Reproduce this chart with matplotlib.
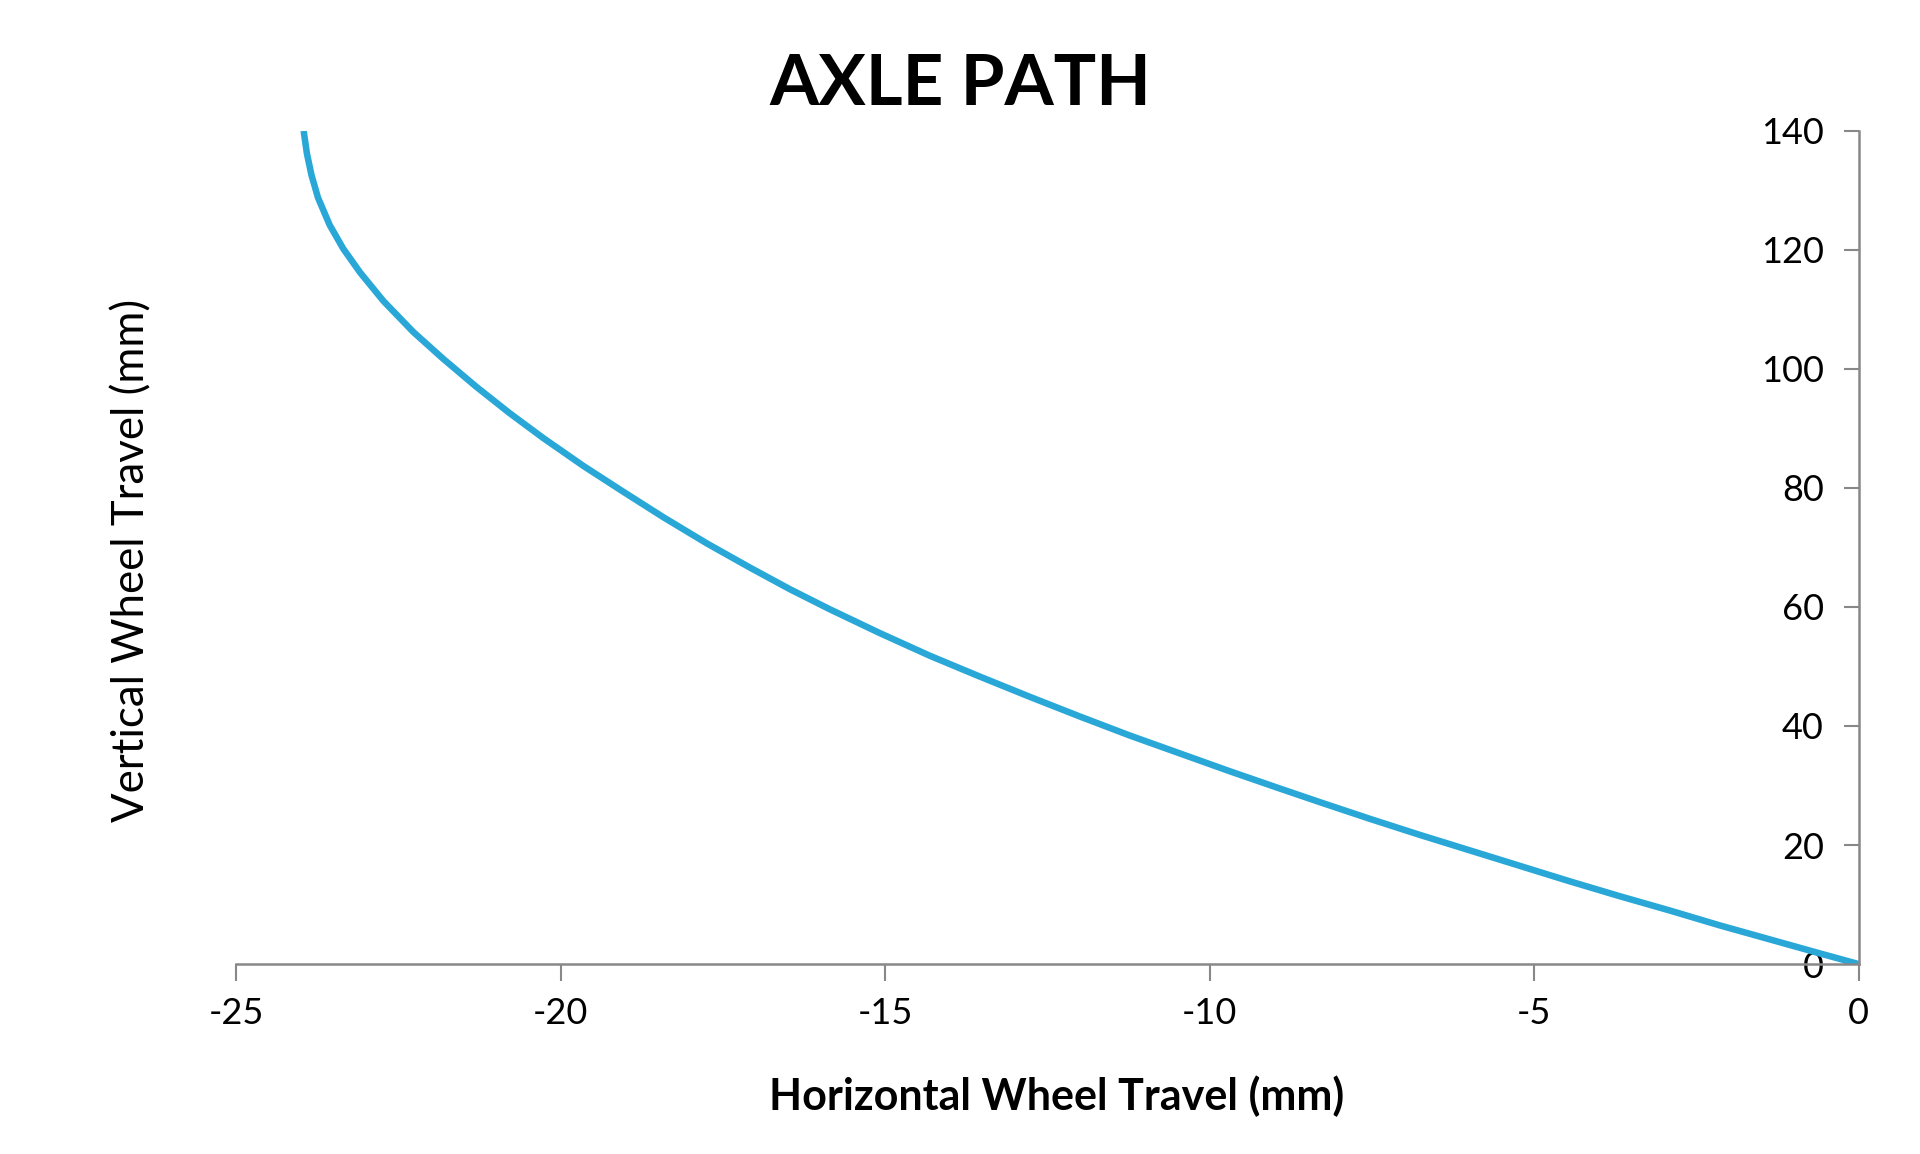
import numpy as np
import matplotlib.pyplot as plt

# axle path (mm)
horiz_travel = [-23.96, -23.91, -23.84, -23.74, -23.56, -23.35, -23.09, -22.73, -22.27, -21.81, -21.30,
                -20.79, -20.27, -19.65, -19.04, -18.42, -17.75, -17.08, -16.47, -15.85, -15.08,
                -14.31, -13.54, -12.77, -12.00, -11.23, -10.46, -9.69, -8.92, -8.30, -7.53,
                -6.76, -5.99, -5.22, -4.45, -3.68, -2.91, -2.14, -1.37, -0.60, 0.0]
vert_travel = [140.0, 136.2, 132.6, 128.8, 124.2, 120.2, 116.2, 111.4, 106.2, 101.7, 97.0,
               92.6, 88.4, 83.7, 79.4, 75.1, 70.7, 66.6, 63.0, 59.6, 55.6,
               51.8, 48.3, 44.9, 41.6, 38.4, 35.4, 32.4, 29.5, 27.2, 24.4,
               21.7, 19.1, 16.5, 13.9, 11.4, 9.0, 6.5, 4.15, 1.8, 0.0]
x_ticks = [-25, -20, -15, -10, -5, 0]
y_ticks = [0, 20, 40, 60, 80, 100, 120, 140]

plt.rcParams['font.family'] = ['Lato', 'DejaVu Sans']
plt.rcParams['axes.unicode_minus'] = False

fig = plt.figure(figsize=(19.2, 11.54), dpi=100)
ax = fig.add_axes([0.123, 0.1646, 0.845, 0.722])

ax.plot(horiz_travel, vert_travel, color='#29A8D8', linewidth=4.7,
        solid_capstyle='butt', solid_joinstyle='round')

ax.set_xlim(-25, 0)
ax.set_ylim(0, 140)
ax.set_xticks(x_ticks)
ax.set_yticks(y_ticks)

# y axis sits on the right edge (x = 0), ticks and labels to its left
ax.spines['left'].set_position(('data', 0))
ax.spines['bottom'].set_position(('data', 0))
ax.spines['right'].set_visible(False)
ax.spines['top'].set_visible(False)
for s in ['left', 'bottom']:
    ax.spines[s].set_color('#888888')
    ax.spines[s].set_linewidth(1.8)

ax.tick_params(axis='x', direction='out', length=12, width=1.5, color='#888888',
               labelsize=26, pad=12)
ax.tick_params(axis='y', direction='out', length=11, width=1.5, color='#888888',
               labelsize=26, pad=14)

fig.text(0.5, 0.927, 'AXLE PATH', ha='center', va='center', fontsize=51, fontweight='bold')
fig.text(0.5505, 0.05, 'Horizontal Wheel Travel (mm)', ha='center', va='center',
         fontsize=31, fontweight='bold')
fig.text(0.0685, 0.514, 'Vertical Wheel Travel (mm)', ha='center', va='center',
         fontsize=31.5, rotation=90)

fig.savefig('out.png', dpi=100, facecolor='white')
